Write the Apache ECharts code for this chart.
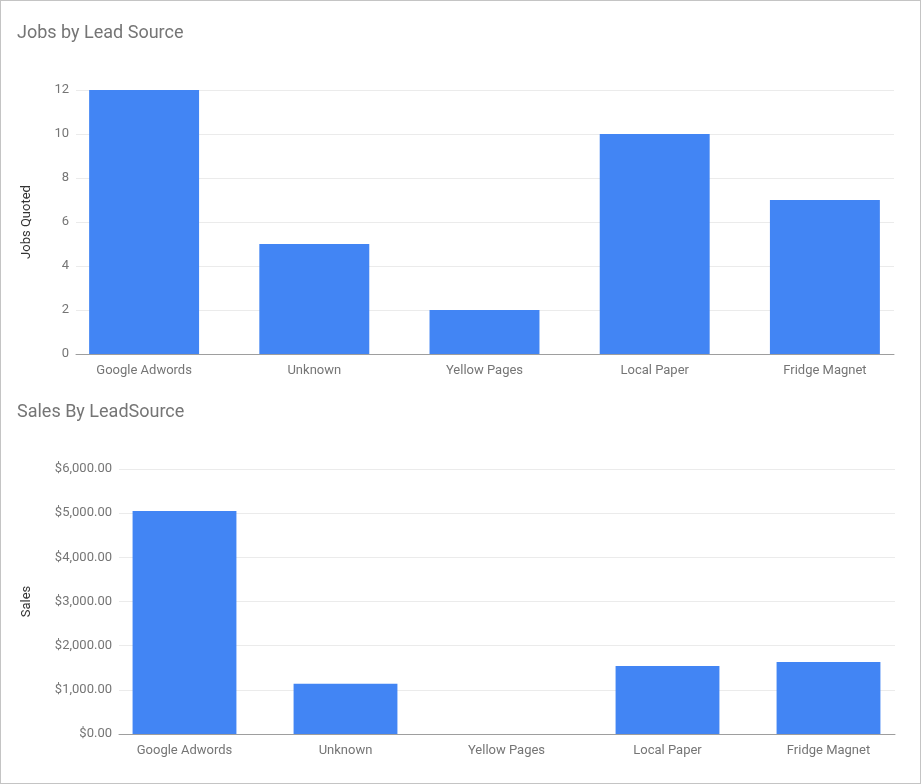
<!DOCTYPE html>
<html>
<head>
<meta charset="utf-8">
<script src="https://cdn.jsdelivr.net/npm/echarts@6/dist/echarts.min.js"></script>
<style>
    html, body { margin: 0; padding: 0; background: #fff; }
    #chart { position: absolute; left: 0; top: 0; width: 921px; height: 784px; }
    #frame { position: absolute; left: 0; top: 0; width: 921px; height: 784px; box-sizing: border-box; border: 1px solid #c4c4c4; pointer-events: none; }
</style>
</head>
<body>
<div id="chart"></div>
<div id="frame"></div>
<script>
    "use strict";
    var leadSources = ['Google Adwords', 'Unknown', 'Yellow Pages', 'Local Paper', 'Fridge Magnet'];
    var jobsQuoted = [12, 5, 2, 10, 7];
    var salesValues = [5050, 1140, 0, 1540, 1630];

    var textColor = '#757575';
    var fontFamily = 'Roboto, Arial, sans-serif';

    function money(value) {
        return '$' + value.toLocaleString('en-US', {minimumFractionDigits: 2, maximumFractionDigits: 2});
    }

    // axis grid: draws baseline + gridlines + y labels (Google-style plot box)
    function baseAxis(gridIndex) {
        return {
            type: 'category',
            gridIndex: gridIndex,
            data: leadSources,
            axisTick: {show: false},
            axisLabel: {show: false},
            axisLine: {lineStyle: {color: '#9e9e9e', width: 1}}
        };
    }

    // bar grid: slightly wider so bars sit like google charts
    function barAxis(gridIndex) {
        return {
            type: 'category',
            gridIndex: gridIndex,
            data: leadSources,
            axisTick: {show: false},
            axisLine: {show: false},
            axisLabel: {color: textColor, fontSize: 13, fontFamily: fontFamily, margin: 10, interval: 0}
        };
    }

    function valAxis(gridIndex, name, max, interval, formatter, gap) {
        return {
            type: 'value',
            gridIndex: gridIndex,
            min: 0,
            max: max,
            interval: interval,
            name: name,
            nameLocation: 'middle',
            nameGap: gap,
            nameTextStyle: {color: '#333', fontSize: 13, fontFamily: fontFamily},
            axisLine: {show: false},
            axisTick: {show: false},
            splitLine: {lineStyle: {color: '#ebebeb', width: 1}},
            axisLabel: {color: textColor, fontSize: 13, fontFamily: fontFamily, margin: 7, formatter: formatter}
        };
    }

    function hiddenVal(gridIndex, max) {
        return {type: 'value', gridIndex: gridIndex, min: 0, max: max, show: false, splitLine: {show: false}};
    }

    var chart = echarts.init(document.getElementById('chart'));
    chart.setOption({
        animation: false,
        title: [
            {text: 'Jobs by Lead Source', left: 12, top: 19,
                textStyle: {color: textColor, fontSize: 18, fontWeight: 'normal', fontFamily: fontFamily}},
            {text: 'Sales By LeadSource', left: 12, top: 398,
                textStyle: {color: textColor, fontSize: 18, fontWeight: 'normal', fontFamily: fontFamily}}
        ],
        grid: [
            {left: 76, right: 27, top: 90, height: 264},
            {left: 59, right: 11, top: 90, height: 264},
            {left: 119, right: 26, top: 469, height: 265},
            {left: 104, right: 12, top: 469, height: 265}
        ],
        xAxis: [baseAxis(0), barAxis(1), baseAxis(2), barAxis(3)],
        yAxis: [
            valAxis(0, 'Jobs Quoted', 12, 2, null, 43),
            hiddenVal(1, 12),
            valAxis(2, 'Sales', 6000, 1000, money, 86),
            hiddenVal(3, 6000)
        ],
        series: [
            {type: 'bar', xAxisIndex: 1, yAxisIndex: 1, data: jobsQuoted, barWidth: '64.6%',
                itemStyle: {color: '#4285f4'}},
            {type: 'bar', xAxisIndex: 3, yAxisIndex: 3, data: salesValues, barWidth: '64.5%',
                itemStyle: {color: '#4285f4'}}
        ]
    });
</script>
</body>
</html>
